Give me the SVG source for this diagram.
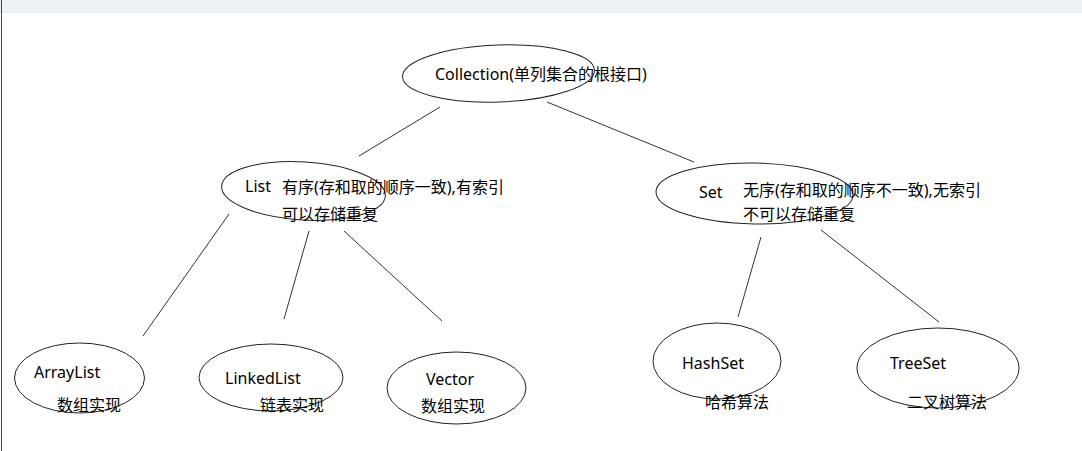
<svg xmlns="http://www.w3.org/2000/svg" width="1082" height="451" viewBox="0 0 1082 451">
<style>
.bg{fill:#ffffff}
.bar{fill:#eef1f8}
.node ellipse{fill:none;stroke:#222;stroke-width:1}
.edge line{stroke:#333;stroke-width:1}
text{font-family:"Noto Sans","Noto Sans CJK SC",sans-serif;font-size:16px;fill:#000}
</style>
<rect class="bg" x="0" y="0" width="1082" height="451"/>
<rect class="bar" x="0" y="0" width="1082" height="12"/>
<rect x="0" y="12" width="1082" height="1" fill="#e6eaf2"/>
<rect x="1" y="0" width="1" height="451" fill="#444"/>
<g id="connectors" class="edge">
<line x1="440" y1="107" x2="359" y2="156"/>
<line x1="547" y1="102" x2="694" y2="162"/>
<line x1="229" y1="214" x2="143" y2="336"/>
<line x1="309" y1="231" x2="284" y2="319"/>
<line x1="344" y1="231" x2="442" y2="321"/>
<line x1="761" y1="237" x2="738" y2="317"/>
<line x1="821" y1="230" x2="939" y2="322"/>
</g>
<g id="collection" class="node">
<ellipse cx="498.5" cy="73.5" rx="96" ry="28.5" transform="rotate(-2 498.5 73.5)"/>
<text x="435" y="80">Collection(单列集合的根接口)</text>
</g>
<g id="list" class="node">
<ellipse cx="303.5" cy="191" rx="82" ry="29" transform="rotate(3.5 303.5 191)"/>
<text x="245" y="192">List</text>
<text x="282" y="193">有序(存和取的顺序一致),有索引</text>
<text x="282" y="220">可以存储重复</text>
</g>
<g id="set" class="node">
<ellipse cx="754.5" cy="193.5" rx="98.5" ry="30.5" transform="rotate(1 754.5 193.5)"/>
<text x="699" y="198">Set</text>
<text x="743" y="196">无序(存和取的顺序不一致),无索引</text>
<text x="743" y="220">不可以存储重复</text>
</g>
<g id="arraylist" class="node">
<ellipse cx="79.5" cy="378" rx="65" ry="35"/>
<text x="34" y="378">ArrayList</text>
<text x="57" y="411">数组实现</text>
</g>
<g id="linkedlist" class="node">
<ellipse cx="271" cy="377.5" rx="72" ry="33.5"/>
<text x="225" y="384">LinkedList</text>
<text x="260" y="411">链表实现</text>
</g>
<g id="vector" class="node">
<ellipse cx="456.5" cy="388" rx="69.5" ry="36"/>
<text x="426" y="385">Vector</text>
<text x="421" y="412">数组实现</text>
</g>
<g id="hashset" class="node">
<ellipse cx="717" cy="361" rx="64" ry="38"/>
<text x="682" y="369">HashSet</text>
<text x="705" y="408">哈希算法</text>
</g>
<g id="treeset" class="node">
<ellipse cx="938" cy="368" rx="81" ry="40"/>
<text x="890" y="369">TreeSet</text>
<text x="907" y="408">二叉树算法</text>
</g>
</svg>
